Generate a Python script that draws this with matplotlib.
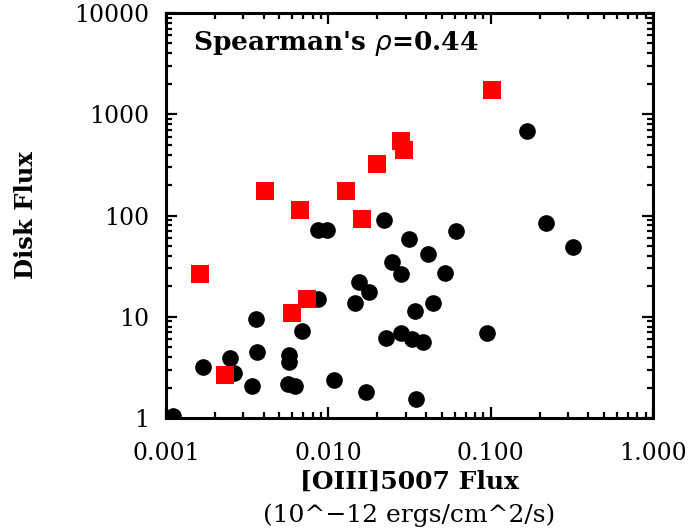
import matplotlib
matplotlib.use("Agg")
import matplotlib.pyplot as plt
from matplotlib.ticker import FixedLocator, LogLocator, NullFormatter

# black circles: [OIII]5007 flux vs disk flux
oiii_black = [0.0011, 0.00168, 0.00248, 0.00262, 0.0034, 0.00357, 0.00366, 0.00574,
              0.00574, 0.00566, 0.00625, 0.0069, 0.0086, 0.0086, 0.0098, 0.0109,
              0.0145, 0.01545, 0.0179, 0.0171, 0.0221, 0.0226, 0.028, 0.0328,
              0.0385, 0.0248, 0.028, 0.0316, 0.034, 0.0348, 0.0414, 0.0442,
              0.0525, 0.061, 0.095, 0.219, 0.32, 0.167]
disk_black = [1.05, 3.2, 3.9, 2.8, 2.05, 9.6, 4.46, 4.2,
              3.56, 2.16, 2.08, 7.3, 15.1, 72.3, 72.3, 2.35,
              13.7, 21.8, 17.4, 1.8, 89.3, 6.1, 6.86, 5.98,
              5.68, 34.8, 26.3, 58.9, 11.5, 1.54, 42.0, 13.7,
              27.1, 69.6, 6.86, 84.1, 48.8, 676.0]

# red squares
oiii_red = [0.1014, 0.0282, 0.0293, 0.020, 0.00406, 0.0128, 0.00667, 0.0162,
            0.00162, 0.00736, 0.00594, 0.00232]
disk_red = [1738.0, 541.0, 447.0, 321.0, 174.0, 174.0, 114.0, 92.7,
            26.7, 14.9, 10.8, 2.63]

x_ticks = [0.001, 0.01, 0.1, 1.0]
x_ticklabels = ["0.001", "0.010", "0.100", "1.000"]
y_ticks = [1, 10, 100, 1000, 10000]
y_ticklabels = ["1", "10", "100", "1000", "10000"]

serif = "DejaVu Serif"

fig = plt.figure(figsize=(6.96, 5.31), dpi=100)
ax = fig.add_axes([0.2385, 0.2128, 0.6997, 0.7627])

ax.plot(oiii_black, disk_black, "o", color="black", markersize=12, markeredgewidth=0)
ax.plot(oiii_red, disk_red, "s", color="#ff0000", markersize=13.5, markeredgewidth=0)

ax.set_xscale("log")
ax.set_yscale("log")
ax.set_xlim(0.001, 1.0)
ax.set_ylim(1, 10000)

ax.xaxis.set_major_locator(FixedLocator(x_ticks))
ax.yaxis.set_major_locator(FixedLocator(y_ticks))
ax.xaxis.set_minor_locator(LogLocator(base=10, subs=range(2, 10)))
ax.yaxis.set_minor_locator(LogLocator(base=10, subs=range(2, 10)))
ax.xaxis.set_minor_formatter(NullFormatter())
ax.yaxis.set_minor_formatter(NullFormatter())
ax.set_xticklabels(x_ticklabels, fontfamily=serif, fontsize=17)
ax.set_yticklabels(y_ticklabels, fontfamily=serif, fontsize=17)

ax.tick_params(which="both", direction="in", top=True, right=True, width=1.6)
ax.tick_params(which="major", length=8)
ax.tick_params(axis="x", which="major", pad=17)
ax.tick_params(axis="y", which="major", pad=12)
ax.tick_params(which="minor", length=4)
for s in ax.spines.values():
    s.set_linewidth(2.2)

ax.text(0.055, 0.925, "Spearman's $\\rho$=0.44", transform=ax.transAxes,
        fontfamily=serif, fontsize=19, fontweight="bold", va="center", ha="left")

ax.text(0.5, -0.158, "[OIII]5007 Flux", transform=ax.transAxes, ha="center",
        va="center", fontfamily=serif, fontsize=18, fontweight="bold")
ax.text(0.5, -0.24, "(10^\u221212 ergs/cm^2/s)", transform=ax.transAxes, ha="center",
        va="center", fontfamily=serif, fontsize=18)
ax.text(-0.2875, 0.5, "Disk Flux", transform=ax.transAxes, rotation=90, ha="center",
        va="center", fontfamily=serif, fontsize=17.5, fontweight="bold")

fig.savefig("out.png", dpi=100)
